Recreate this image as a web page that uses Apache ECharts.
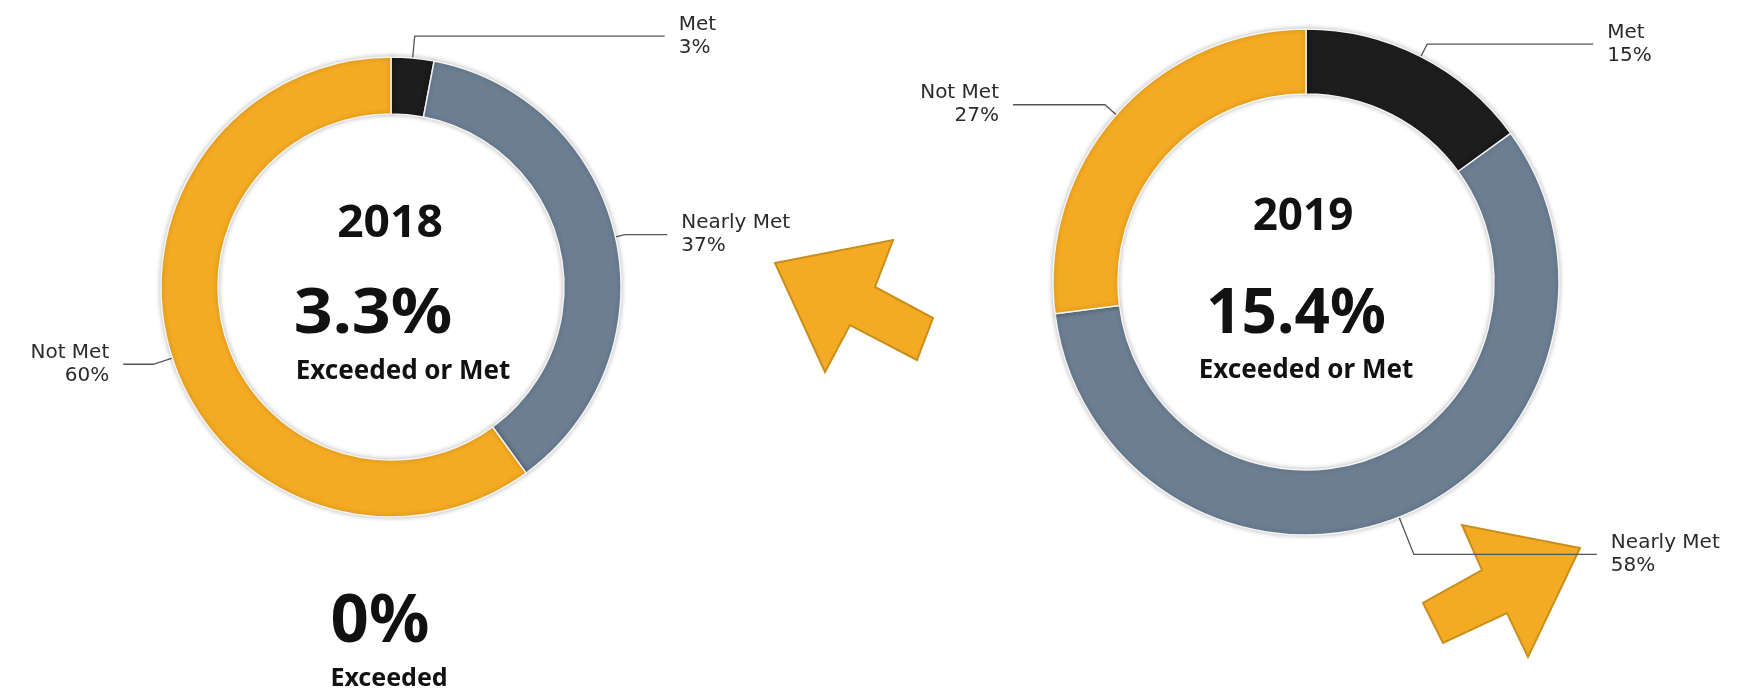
<!DOCTYPE html>
<html>
<head>
<meta charset="utf-8">
<title>2018 vs 2019</title>
<script src="https://cdn.jsdelivr.net/npm/echarts@6/dist/echarts.min.js"></script>
<style>
  html, body { margin: 0; padding: 0; background: #fff; }
  #chart { width: 1739px; height: 694px; }
</style>
</head>
<body>
<div id="chart"></div>
<script>
// data
const categories = ["Met", "Nearly Met", "Not Met"];
const values2018 = [3, 37, 60];
const values2019 = [15, 58, 27];
const years = ["2018", "2019"];
const exceededOrMet = ["3.3%", "15.4%"];
const exceeded2018 = "0%";

const colors = ["#1d1d1d", "#6b7e92", "#f4aa22"];
// label line lengths per slice [length, length2]
const lines2018 = [[22, 250], [10, 42], [20, 30]];
const lines2019 = [[14, 166], [40, 183], [15, 92]];

function buildData(values, lines) {
  return values.map((v, i) => ({
    name: categories[i],
    value: v,
    itemStyle: { color: colors[i] },
    labelLine: { length: lines[i][0], length2: lines[i][1] }
  }));
}

function pieSeries(values, lines, center, radius) {
  return {
    type: "pie",
    center: center,
    radius: radius,
    startAngle: 90,
    clockwise: true,
    avoidLabelOverlap: false,
    silent: true,
    itemStyle: {
      borderColor: "#f4f4f4",
      borderWidth: 1.5,
      shadowBlur: 5,
      shadowColor: "rgba(0,0,0,0.25)"
    },
    label: {
      show: true,
      formatter: "{b}\n{d}%",
      fontFamily: "DejaVu Sans",
      fontSize: 20,
      lineHeight: 23,
      color: "#2b2b2b",
      distanceToLabelLine: 14
    },
    labelLine: {
      show: true,
      lineStyle: { color: "#555", width: 1.3 }
    },
    data: buildData(values, lines)
  };
}

// centred bold text, sx stretches it sideways like the source picture
function centerText(text, x, y, size, sx) {
  return {
    type: "text",
    silent: true,
    x: x,
    y: y,
    scaleX: sx || 1,
    style: {
      text: text,
      textAlign: "center",
      textVerticalAlign: "middle",
      font: "bold " + size + "px 'Noto Sans'",
      fill: "#111"
    }
  };
}

function arrow(points) {
  return {
    type: "polygon",
    silent: true,
    shape: { points: points },
    style: { fill: "#f4aa22", stroke: "#c98e1c", lineWidth: 2 }
  };
}

const chart = echarts.init(document.getElementById("chart"));

const option = {
  backgroundColor: "#fff",
  animation: false,
  series: [
    pieSeries(values2018, lines2018, [391, 287], [173, 230]),
    pieSeries(values2019, lines2019, [1306, 282], [188, 253])
  ],
  graphic: [
    centerText(years[0], 390, 224, 44, 1.05),
    centerText(exceededOrMet[0], 373, 315, 62, 1.1),
    centerText("Exceeded or Met", 403, 372, 26),
    centerText(years[1], 1303, 217, 44),
    centerText(exceededOrMet[1], 1296, 315, 62),
    centerText("Exceeded or Met", 1306, 371, 26),
    centerText(exceeded2018, 380, 623, 67),
    centerText("Exceeded", 389, 679, 25),
    arrow([[775, 263], [893, 240], [875, 287], [933, 318], [917, 360], [850, 325], [825, 372]]),
    arrow([[1580, 548], [1528, 657], [1507, 613], [1443, 643], [1423, 603], [1482, 570], [1462, 525]])
  ]
};

chart.setOption(option);
</script>
</body>
</html>
